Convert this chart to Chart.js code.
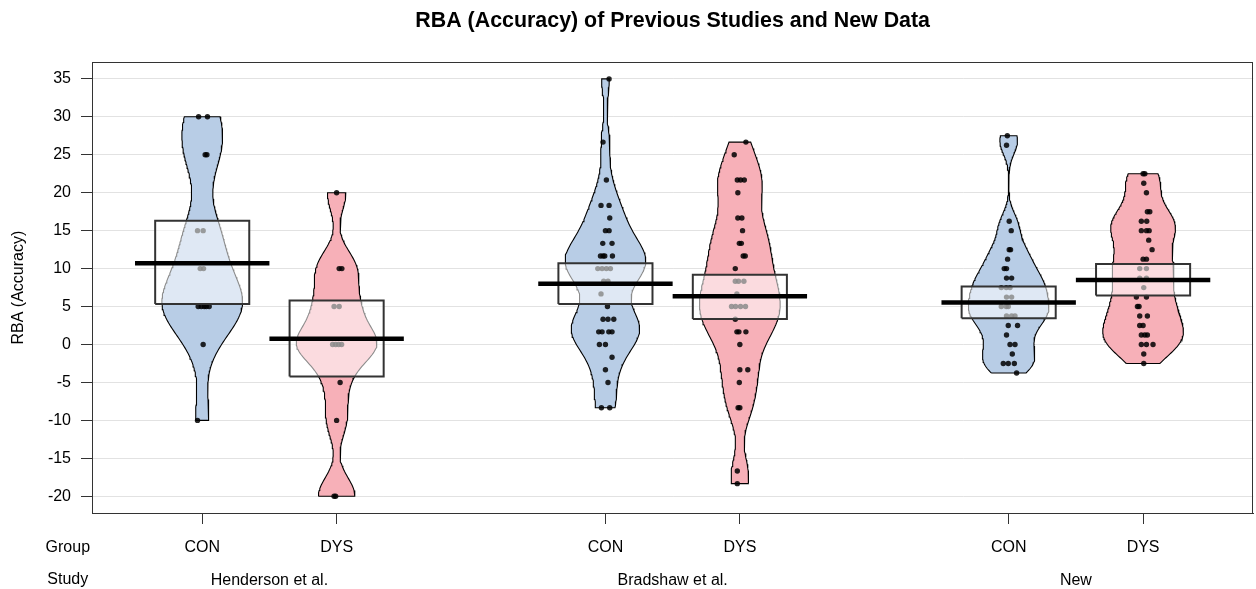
<!DOCTYPE html>
<html><head><meta charset="utf-8">
<script src="https://cdn.jsdelivr.net/npm/chart.js@4.4.1/dist/chart.umd.min.js"></script>
<style>html,body{margin:0;padding:0;background:#fff;overflow:hidden}</style>
</head><body>
<canvas id="c" width="1256" height="589"></canvas>
<script>
// ---------- data ----------
const studies = ['Henderson et al.', 'Bradshaw et al.', 'New'];
const groups = ['CON', 'DYS'];
const yTickValues = [-20, -15, -10, -5, 0, 5, 10, 15, 20, 25, 30, 35];

const hendersonCon = [30, 30, 25, 25, 15, 15, 10, 10, 5, 5, 5, 5, 5, 0, -10];
const hendersonConJitter = [-0.027, 0.039, 0.022, 0.035, -0.035, 0.007, -0.015, 0.010, -0.030, -0.007, 0.015, 0.030, 0.052, 0.007, -0.035];

const hendersonDys = [20, 10, 10, 5, 5, 0, 0, 0, 0, -5, -10, -20, -20];
const hendersonDysJitter = [0, 0.019, 0.039, -0.019, 0.019, -0.030, -0.007, 0.015, 0.037, 0.026, 0, -0.019, -0.007];

const bradshawCon = [35, 26.67, 21.67, 18.33, 18.33, 16.67, 15, 15, 13.33, 13.33, 11.67, 11.67, 11.67, 11.67, 10, 10, 10, 10, 8.33, 8.33, 6.67, 5, 3.33, 3.33, 3.33, 1.67, 1.67, 1.67, 1.67, 0, 0, -1.67, -3.33, -5, -8.33, -8.33];
const bradshawConJitter = [0.027, -0.018, 0.007, -0.033, 0.027, 0.032, 0, 0.027, -0.020, 0.049, -0.037, -0.018, -0.005, 0.052, -0.057, -0.025, 0.007, 0.037, -0.013, 0.019, -0.033, 0.015, -0.018, 0.019, 0.062, -0.050, -0.025, 0.025, 0.049, -0.045, 0, 0.049, 0, 0.019, -0.030, 0.032];

const bradshawDys = [26.67, 25, 21.67, 21.67, 21.67, 20, 16.67, 16.67, 15, 13.33, 13.33, 11.67, 11.67, 10, 8.33, 8.33, 8.33, 6.67, 5, 5, 5, 5, 3.33, 1.67, 1.67, 1.67, 0, -3.33, -3.33, -5, -8.33, -8.33, -16.67, -18.33];
const bradshawDysJitter = [0.045, -0.042, -0.019, 0.005, 0.033, -0.015, -0.015, 0.015, 0.020, -0.004, 0.011, 0.025, 0.040, -0.034, -0.034, -0.010, 0.030, -0.022, -0.062, -0.032, 0.005, 0.042, -0.034, -0.022, -0.007, 0.045, 0, 0, 0.059, -0.004, -0.013, 0, -0.019, -0.019];

const newCon = [27.5, 26.25, 16.25, 15, 12.5, 12.5, 11.25, 10, 10, 8.75, 8.75, 7.5, 7.5, 7.5, 6.25, 6.25, 5, 5, 5, 3.75, 3.75, 3.75, 2.5, 2.5, 1.25, 0, 0, -1.25, -2.5, -2.5, -2.5, -3.75];
const newConJitter = [-0.010, -0.016, 0.004, 0.019, 0.004, 0.014, -0.008, -0.033, -0.016, -0.016, 0.022, -0.055, -0.018, 0.010, -0.016, 0.022, -0.055, -0.018, -0.003, -0.016, 0.022, 0.047, -0.003, 0.066, -0.016, 0.010, 0.047, 0.027, -0.040, -0.003, 0.042, 0.059];

const newDys = [22.5, 22.5, 21.25, 20, 17.5, 17.5, 16.25, 16.25, 15, 15, 15, 13.75, 12.5, 11.25, 11.25, 10, 10, 8.75, 8.75, 7.5, 6.25, 6.25, 5, 5, 3.75, 3.75, 2.5, 2.5, 1.25, 1.25, 1.25, 0, 0, 0, -1.25, -2.5];
const newDysJitter = [0, 0.013, 0.005, 0.025, 0.032, 0.050, -0.013, 0.027, -0.013, 0.025, 0.045, 0.042, 0.067, 0, 0.025, -0.025, 0.025, -0.025, 0.025, 0.005, -0.050, 0.025, -0.042, -0.030, -0.025, 0.032, -0.025, 0, -0.013, 0.013, 0.032, -0.013, 0.025, 0.074, 0.005, 0.005];

const groupMeans = [10.7, 0.75, 8.0, 6.35, 5.55, 8.5];
const intervalLow = [5.35, -4.2, 5.35, 3.35, 3.45, 6.45];
const intervalHigh = [16.3, 5.8, 10.7, 9.2, 7.65, 10.6];

// ---------- assembly ----------
const beanValues = [hendersonCon, hendersonDys, bradshawCon, bradshawDys, newCon, newDys];
const beanJitter = [hendersonConJitter, hendersonDysJitter, bradshawConJitter, bradshawDysJitter, newConJitter, newDysJitter];
const positions = beanValues.map((_, i) => Math.floor(i / 2) * 3 + (i % 2) + 1);
const studyPositions = studies.map((_, s) => s * 3 + 1.5);
const beanFill = ['rgb(184,205,230)', 'rgb(247,176,184)'];
const BW_ADJUST = 0.62;

function quantile(s, p) {
  const h = (s.length - 1) * p, lo = Math.floor(h);
  const hi = Math.min(lo + 1, s.length - 1);
  return s[lo] + (h - lo) * (s[hi] - s[lo]);
}
function bwNrd0(v) {
  const n = v.length;
  const m = v.reduce((a, b) => a + b, 0) / n;
  const sd = Math.sqrt(v.reduce((a, b) => a + (b - m) * (b - m), 0) / (n - 1));
  const s = [...v].sort((a, b) => a - b);
  const iqr = quantile(s, 0.75) - quantile(s, 0.25);
  let lo = Math.min(sd, iqr / 1.34);
  if (!lo) lo = sd || Math.abs(v[0]) || 1;
  return 0.9 * lo * Math.pow(n, -0.2);
}
function beanOutline(v, pos, widthMax) {
  const bw = bwNrd0(v) * BW_ADJUST;
  const lo = Math.min(...v), hi = Math.max(...v);
  const N = 160, ys = [], ds = [];
  for (let k = 0; k < N; k++) {
    const y = lo + (hi - lo) * k / (N - 1);
    let d = 0;
    for (const x of v) { const z = (y - x) / bw; d += Math.exp(-0.5 * z * z); }
    ys.push(y); ds.push(d);
  }
  const mx = Math.max(...ds);
  const pts = [];
  for (let k = 0; k < N; k++) pts.push({x: pos - ds[k] / mx * widthMax, y: ys[k]});
  for (let k = N - 1; k >= 0; k--) pts.push({x: pos + ds[k] / mx * widthMax, y: ys[k]});
  pts.push({...pts[0]});
  return pts;
}

const datasets = [];
beanValues.forEach((vals, i) => {
  const p = positions[i];
  datasets.push({
    type: 'line', data: beanOutline(vals, p, 0.3), fill: 'shape',
    backgroundColor: beanFill[i % 2], borderColor: '#000', borderWidth: 1.1,
    pointRadius: 0, tension: 0, order: 3
  });
  datasets.push({
    type: 'scatter', data: vals.map((y, j) => ({x: p + beanJitter[i][j], y})),
    pointRadius: 2.7, pointBackgroundColor: 'rgba(0,0,0,0.85)', pointBorderWidth: 0,
    pointHoverRadius: 2.7, order: 2
  });
  const w = 0.35;
  datasets.push({
    type: 'line', fill: 'shape',
    data: [{x: p - w, y: intervalLow[i]}, {x: p + w, y: intervalLow[i]}, {x: p + w, y: intervalHigh[i]}, {x: p - w, y: intervalHigh[i]}, {x: p - w, y: intervalLow[i]}],
    backgroundColor: 'rgba(255,255,255,0.55)', borderColor: '#333', borderWidth: 2,
    borderJoinStyle: 'miter', pointRadius: 0, tension: 0, order: 1
  });
  datasets.push({
    type: 'line', data: [{x: p - 0.5, y: groupMeans[i]}, {x: p + 0.5, y: groupMeans[i]}],
    borderColor: '#000', borderWidth: 4.5, borderCapStyle: 'butt', pointRadius: 0, fill: false, order: 0
  });
});

const FONT = "'Liberation Sans', Arial, sans-serif";
Chart.defaults.font.family = FONT;
Chart.defaults.font.size = 16;
Chart.defaults.color = '#000';

const framePlugin = {
  id: 'frame',
  afterDraw(chart) {
    const {ctx, chartArea: a, scales} = chart;
    ctx.save();
    ctx.strokeStyle = '#333'; ctx.lineWidth = 1;
    ctx.strokeRect(Math.round(a.left) + 0.5, Math.round(a.top) + 0.5, Math.round(a.right - a.left) - 1, Math.round(a.bottom - a.top));
    ctx.fillStyle = '#000';
    ctx.font = '16px ' + FONT;
    ctx.textAlign = 'center'; ctx.textBaseline = 'middle';
    const x0 = scales.x.getPixelForValue(0);
    ctx.fillText('Group', x0, a.bottom + 35);
    ctx.fillText('Study', x0, a.bottom + 67);
    ctx.restore();
  }
};

new Chart(document.getElementById('c'), {
  type: 'scatter',
  data: {datasets},
  plugins: [framePlugin],
  options: {
    responsive: false, animation: false, devicePixelRatio: 1,
    layout: {padding: {left: 0, right: 1, top: 0, bottom: 0}},
    plugins: {
      legend: {display: false}, tooltip: {enabled: false},
      title: {display: true, fullSize: false, text: 'RBA (Accuracy) of Previous Studies and New Data',
        color: '#000', font: {size: 21.4, weight: 'bold'}, padding: {top: 8, bottom: 28.5}}
    },
    scales: {
      x: {
        type: 'linear', position: 'bottom', weight: 0, min: 0.18, max: 8.82,
        afterBuildTicks: s => { s.ticks = positions.map(v => ({value: v})); },
        afterFit: s => { s.height = 45; },
        ticks: {autoSkip: false, maxRotation: 0, padding: 14, color: '#000',
          callback: v => { const i = positions.indexOf(v); return i < 0 ? '' : groups[i % 2]; }},
        grid: {drawOnChartArea: false, drawTicks: true, tickLength: 11, tickColor: '#333'},
        border: {display: true, color: '#333'}
      },
      x2: {
        type: 'linear', position: 'bottom', weight: 1, min: 0.18, max: 8.82,
        afterBuildTicks: s => { s.ticks = studyPositions.map(v => ({value: v})); },
        afterFit: s => { s.height = 31; },
        ticks: {autoSkip: false, maxRotation: 0, padding: 5, color: '#000',
          callback: v => { const i = studyPositions.indexOf(v); return i < 0 ? '' : studies[i]; }},
        grid: {display: false}, border: {display: false}
      },
      y: {
        type: 'linear', min: -22.2, max: 37.2,
        afterBuildTicks: s => { s.ticks = yTickValues.map(v => ({value: v})); },
        afterFit: s => { s.width = 92; },
        ticks: {padding: 10, color: '#000'},
        grid: {color: '#e2e2e2', tickColor: '#333', tickLength: 11, lineWidth: 1},
        border: {color: '#333'},
        title: {display: true, text: 'RBA (Accuracy)', color: '#000', font: {size: 16}, padding: {top: 9, bottom: 0}}
      }
    }
  }
});
</script>
</body></html>
